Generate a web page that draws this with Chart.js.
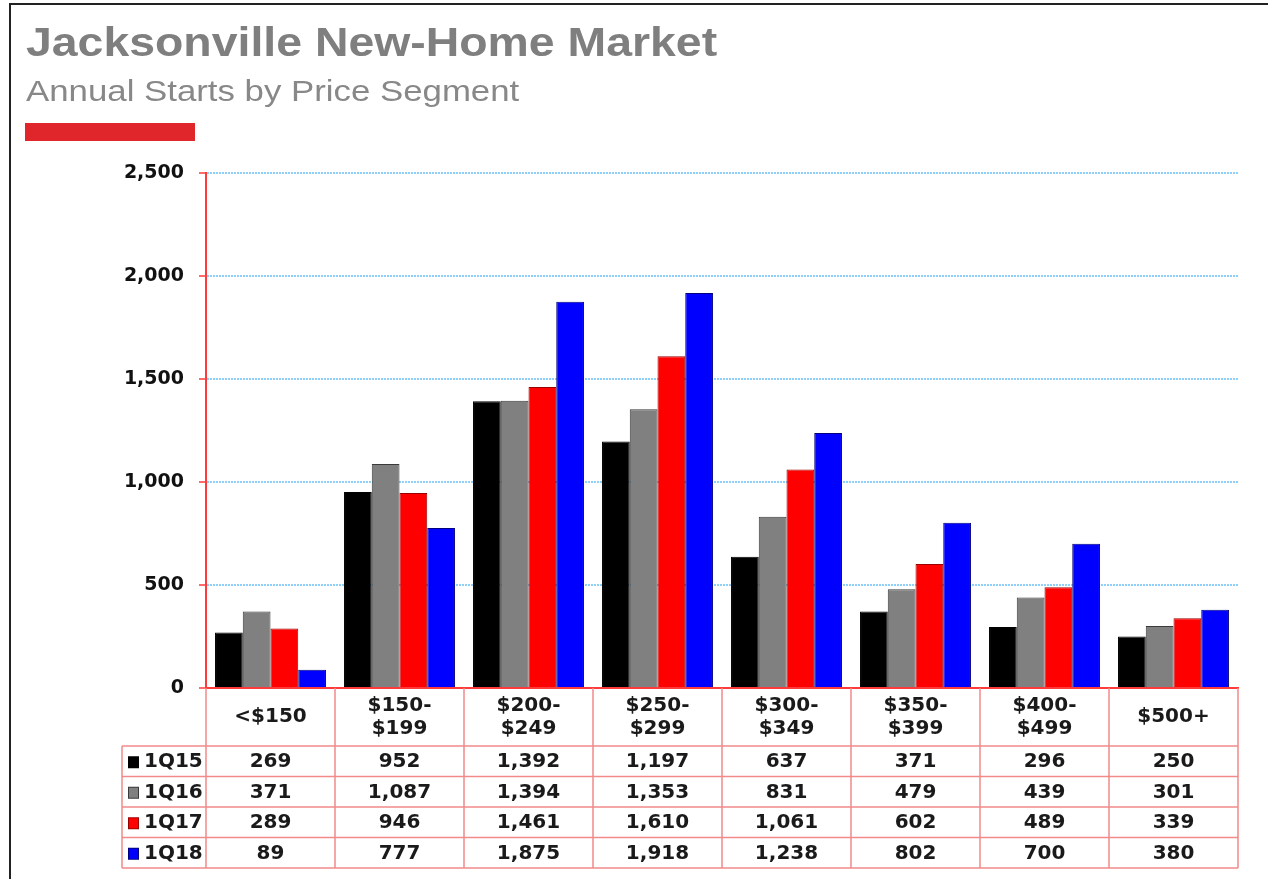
<!DOCTYPE html>
<html>
<head>
<meta charset="utf-8">
<title>Jacksonville New-Home Market</title>
<script src="https://cdn.jsdelivr.net/npm/chart.js@4/dist/chart.umd.min.js"></script>
<style>
  html, body { margin: 0; padding: 0; background: #fff; }
  #chart { display: block; }
</style>
</head>
<body>
<canvas id="chart" width="1268" height="879"></canvas>
<script>
// price segments (multi-line labels for the table header)
const segments = [
    ['<$150'],
    ['$150-', '$199'],
    ['$200-', '$249'],
    ['$250-', '$299'],
    ['$300-', '$349'],
    ['$350-', '$399'],
    ['$400-', '$499'],
    ['$500+']
];

const periods = ['1Q15', '1Q16', '1Q17', '1Q18'];

const starts1Q15 = [269, 952, 1392, 1197, 637, 371, 296, 250];
const starts1Q16 = [371, 1087, 1394, 1353, 831, 479, 439, 301];
const starts1Q17 = [289, 946, 1461, 1610, 1061, 602, 489, 339];
const starts1Q18 = [89, 777, 1875, 1918, 1238, 802, 700, 380];

const yTicks = [0, 500, 1000, 1500, 2000, 2500];

const fills = ['#000000', '#808080', '#ff0000', '#0000ff'];
const edges = ['#000000', '#3a3a3a', '#9a0000', '#000080'];
const tableLine = '#f28a8a';
const axisRed = '#ff3a3a';
const textFont = 'bold 20px "DejaVu Sans", Tahoma, sans-serif';

const fmt = v => v.toLocaleString('en-US');

const series = [starts1Q15, starts1Q16, starts1Q17, starts1Q18];

// header text (slightly widened), red rule, outer frame
const headerPlugin = {
    id: 'header',
    afterDraw(chart) {
        const ctx = chart.ctx;
        ctx.save();
        ctx.strokeStyle = '#222';
        ctx.lineWidth = 2;
        ctx.beginPath();
        ctx.moveTo(10, 879);
        ctx.lineTo(10, 4);
        ctx.lineTo(1268, 4);
        ctx.stroke();

        ctx.fillStyle = '#e0262a';
        ctx.fillRect(25, 123, 170, 18);

        ctx.textBaseline = 'alphabetic';
        ctx.textAlign = 'left';
        ctx.translate(26, 0);
        ctx.scale(1.16, 1);
        ctx.fillStyle = '#7f7f7f';
        ctx.font = 'bold 40px "Liberation Sans", Arial, sans-serif';
        ctx.fillText('Jacksonville New-Home Market', 0, 56);
        ctx.fillStyle = '#888888';
        ctx.font = '30px "Liberation Sans", Arial, sans-serif';
        ctx.fillText('Annual Starts by Price Segment', 0, 101);
        ctx.restore();
    }
};

// data table under the plot, columns follow the x scale
const tablePlugin = {
    id: 'dataTable',
    afterDraw(chart) {
        const ctx = chart.ctx;
        const x = chart.scales.x;
        const area = chart.chartArea;
        const top = area.bottom;
        const headBottom = top + 58;
        const rowH = 30.5;
        const bottom = headBottom + rowH * periods.length;
        const legendLeft = 122;
        const colW = (area.right - area.left) / segments.length;

        ctx.save();
        ctx.strokeStyle = tableLine;
        ctx.lineWidth = 1.5;

        // horizontal rules
        ctx.beginPath();
        for (let r = 0; r <= periods.length; r++) {
            const y = headBottom + r * rowH;
            ctx.moveTo(legendLeft, y);
            ctx.lineTo(area.right, y);
        }
        ctx.stroke();

        // vertical rules
        ctx.beginPath();
        ctx.moveTo(legendLeft, headBottom);
        ctx.lineTo(legendLeft, bottom);
        for (let c = 0; c <= segments.length; c++) {
            const xx = area.left + c * colW;
            ctx.moveTo(xx, top);
            ctx.lineTo(xx, bottom);
        }
        ctx.stroke();

        ctx.fillStyle = '#1a1a1a';
        ctx.font = textFont;
        ctx.textAlign = 'center';
        ctx.textBaseline = 'middle';

        // category headers
        segments.forEach((lines, i) => {
            const cx = x.getPixelForValue(i);
            const mid = (top + headBottom) / 2;
            const lh = 23;
            lines.forEach((t, k) => {
                ctx.fillText(t, cx, mid + (k - (lines.length - 1) / 2) * lh);
            });
        });

        // values + legend keys
        series.forEach((vals, r) => {
            const cy = headBottom + r * rowH + rowH / 2 + 1;
            vals.forEach((v, i) => {
                ctx.fillText(fmt(v), x.getPixelForValue(i), cy);
            });
            ctx.fillStyle = edges[r];
            ctx.fillRect(128, cy - 6, 11, 12);
            ctx.fillStyle = fills[r];
            ctx.fillRect(129, cy - 5, 9, 10);
            ctx.fillStyle = '#1a1a1a';
            ctx.textAlign = 'left';
            ctx.fillText(periods[r], 144, cy);
            ctx.textAlign = 'center';
        });
        ctx.restore();
    }
};

new Chart(document.getElementById('chart'), {
    type: 'bar',
    data: {
        labels: segments,
        datasets: series.map((vals, i) => ({
            label: periods[i],
            data: vals,
            backgroundColor: fills[i],
            borderColor: edges[i],
            borderWidth: 1,
            barPercentage: 1.0,
            categoryPercentage: 0.86
        }))
    },
    options: {
        responsive: false,
        animation: false,
        devicePixelRatio: 1,
        layout: { padding: { top: 173, right: 30, left: 0, bottom: 0 } },
        plugins: {
            legend: { display: false },
            tooltip: { enabled: false }
        },
        scales: {
            x: {
                grid: { display: false },
                ticks: { display: false },
                border: { color: axisRed, width: 2 },
                afterFit(scale) { scale.height = 191; }
            },
            y: {
                min: yTicks[0],
                max: yTicks[yTicks.length - 1],
                afterBuildTicks(scale) {
                    scale.ticks = yTicks.map(v => ({ value: v }));
                },
                grid: {
                    color: '#8fd0fb',
                    lineWidth: 2,
                    drawTicks: true,
                    tickLength: 7,
                    tickColor: axisRed,
                    tickWidth: 1.5
                },
                border: { color: axisRed, width: 2, dash: [2, 1] },
                ticks: {
                    padding: 15,
                    color: '#111',
                    font: { family: '"DejaVu Sans", Tahoma, sans-serif', weight: 'bold', size: 19 },
                    callback: v => fmt(v)
                },
                afterFit(scale) { scale.width = 206; }
            }
        }
    },
    plugins: [headerPlugin, tablePlugin]
});
</script>
</body>
</html>
